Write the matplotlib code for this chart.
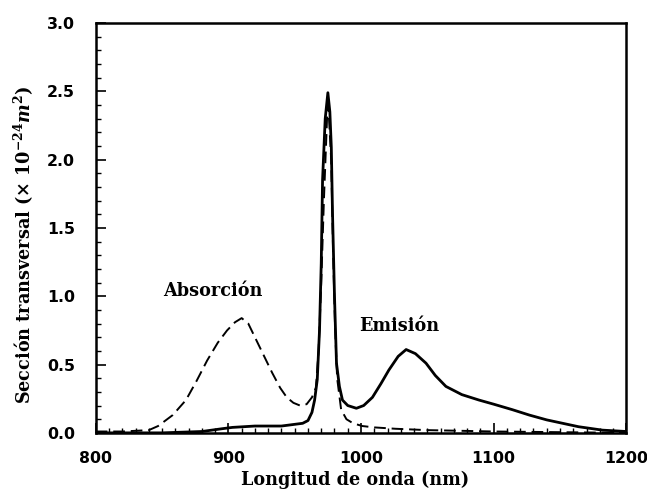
import numpy as np
import matplotlib.pyplot as plt
from matplotlib.ticker import MultipleLocator

# Absorcion (curva discontinua)
lam_abs = [800, 820, 840, 847, 858, 868, 876, 884, 892, 899, 905, 910, 915, 921, 927,
           933, 939, 944, 949, 954, 959, 963, 966, 968, 970, 972, 975, 977.5, 979, 980.5,
           982, 985, 989, 994, 1001, 1010, 1026, 1050, 1076, 1100, 1150, 1200]
sig_abs = [0.01, 0.01, 0.02, 0.05, 0.13, 0.24, 0.38, 0.53, 0.66, 0.75, 0.81, 0.84, 0.80, 0.68, 0.56,
           0.44, 0.33, 0.26, 0.22, 0.20, 0.21, 0.26, 0.33, 0.6, 1.1, 1.7, 2.46, 2.0, 1.3, 0.75,
           0.40, 0.17, 0.10, 0.07, 0.05, 0.04, 0.03, 0.02, 0.015, 0.01, 0.005, 0.0]

# Emision (curva continua)
lam_em = [800, 850, 880, 895, 903, 920, 940, 956, 960, 963, 965, 967, 968.7, 970, 971,
          973, 975, 976.5, 977.6, 978.5, 980, 981.5, 983.7, 986, 990, 996.5, 1002, 1008.6,
          1015, 1021, 1028, 1034, 1041, 1049, 1056, 1064, 1076, 1089, 1100, 1114, 1127,
          1140, 1152, 1164, 1182, 1200]
sig_em = [0.0, 0.0, 0.01, 0.03, 0.04, 0.05, 0.05, 0.07, 0.09, 0.15, 0.24, 0.39, 0.75, 1.24, 1.85,
          2.3, 2.49, 2.35, 2.09, 1.61, 1.0, 0.51, 0.34, 0.24, 0.20, 0.18, 0.20, 0.26,
          0.36, 0.46, 0.56, 0.61, 0.58, 0.51, 0.42, 0.34, 0.28, 0.24, 0.21, 0.17, 0.13,
          0.095, 0.07, 0.045, 0.02, 0.01]

plt.rcParams['mathtext.fontset'] = 'custom'
plt.rcParams['mathtext.rm'] = 'DejaVu Serif:bold'
plt.rcParams['mathtext.it'] = 'DejaVu Serif:italic:bold'
plt.rcParams['mathtext.bf'] = 'DejaVu Serif:bold'

serif = dict(fontfamily='DejaVu Serif', fontweight='bold', fontsize=12.7)

fig = plt.figure(figsize=(6.47, 5.01), dpi=100)
ax = fig.add_axes([0.148, 0.136, 0.82, 0.818])

ax.plot(lam_abs, sig_abs, color='black', lw=1.4, ls=(0, (6, 3)))
ax.plot(lam_em, sig_em, color='black', lw=2.0)

ax.set_xlim(800, 1200)
ax.set_ylim(0, 3.0)
ax.xaxis.set_major_locator(MultipleLocator(100))
ax.xaxis.set_minor_locator(MultipleLocator(10))
ax.yaxis.set_major_locator(MultipleLocator(0.5))
ax.yaxis.set_minor_locator(MultipleLocator(0.1))
ax.tick_params(which='both', direction='in', top=False, right=False)
ax.tick_params(which='major', length=7, width=1.2)
ax.tick_params(which='minor', length=3.5, width=1.0)
ax.tick_params(axis='x', pad=13)
ax.tick_params(axis='y', pad=15)
ax.yaxis.set_major_formatter(plt.FuncFormatter(lambda v, p: f'{v:.1f}'))
for lbl in ax.get_xticklabels() + ax.get_yticklabels():
    lbl.set_fontfamily('DejaVu Sans')
    lbl.set_fontweight('bold')
    lbl.set_fontsize(11.3)
for s in ax.spines.values():
    s.set_linewidth(1.8)

ax.set_xlabel('Longitud de onda (nm)', va='top', **serif)
ax.xaxis.set_label_coords(0.489, -0.093)
ax.set_ylabel(r'Sección transversal ($\times\ 10^{-24}\mathit{m}^{2}$)', **serif)
ax.yaxis.set_label_coords(-0.112, 0.46)

ax.text(888, 1.04, 'Absorción', ha='center', va='center', **serif)
ax.text(1029, 0.78, 'Emisión', ha='center', va='center', **serif)

fig.savefig('out.png', dpi=100)
